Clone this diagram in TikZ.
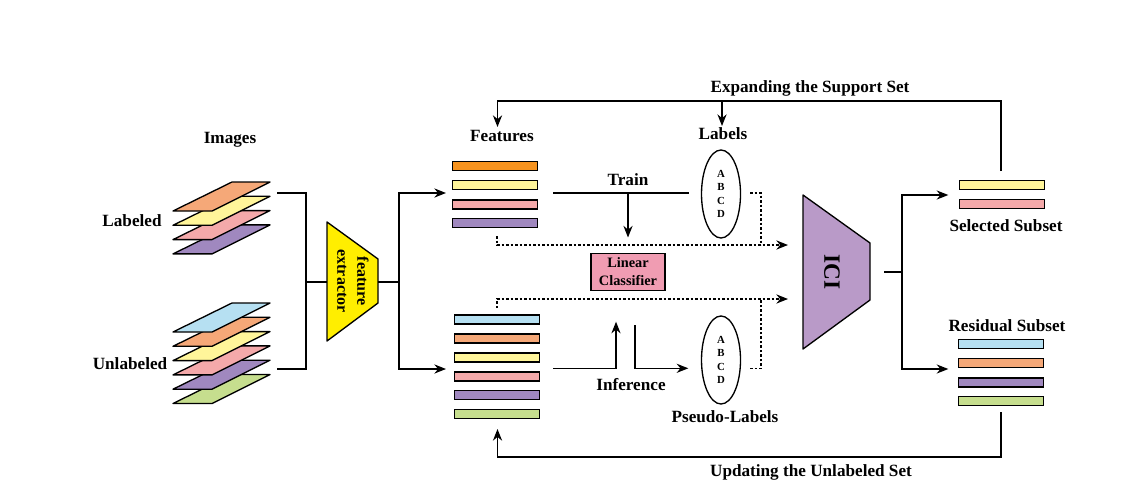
\documentclass[tikz,border=0pt]{standalone}
\usepackage{fontspec}
\setmainfont{Liberation Serif}
\usetikzlibrary{shapes,arrows.meta}
\definecolor{lor}{HTML}{F5A878}
\definecolor{dor}{HTML}{F7931E}
\definecolor{yel}{HTML}{FFF59A}
\definecolor{pnk}{HTML}{F4A9AA}
\definecolor{pur}{HTML}{A088BF}
\definecolor{blu}{HTML}{B6E0F2}
\definecolor{grn}{HTML}{C6DE8E}
\definecolor{fexy}{HTML}{FFEE00}
\definecolor{icip}{HTML}{B99AC8}
\definecolor{clsp}{HTML}{F09CB2}
\tikzstyle{bar}=[rectangle,draw=black,line width=.8pt,minimum width=51pt,minimum height=5.4pt,inner sep=0pt]
\tikzstyle{layer}=[draw=black,line width=.8pt,line join=round]
\tikzstyle{oval}=[ellipse,draw=black,line width=.8pt,minimum width=23.4pt,minimum height=52.8pt,inner sep=0pt,align=center,font=\fontsize{6.5}{8.1}\selectfont\bfseries]
\tikzstyle{txt}=[inner sep=0pt,font=\fontsize{10.3}{12}\selectfont\bfseries]
\tikzstyle{arr}=[line width=.8pt,-{Stealth[length=7pt,width=5.5pt]}]
\tikzstyle{ln}=[line width=.8pt]
\tikzstyle{dots}=[line width=.8pt,dash pattern=on 1.5pt off 1.2pt]
\begin{document}
\begin{tikzpicture}[x=.6pt,y=-.6pt]
\useasboundingbox (0,0) rectangle (1134,492);
% images
\node[txt] (img) at (230,140) {Images}; \node[txt] (labd) at (132,221) {Labeled}; \node[txt] (unld) at (130,364) {Unlabeled};
\filldraw[layer,fill=pur] (173,253.9) -- ++(39,0) -- ++(58,-29) -- ++(-38,0) -- cycle; \filldraw[layer,fill=pnk] (173,239.6) -- ++(39,0) -- ++(58,-29) -- ++(-38,0) -- cycle; \filldraw[layer,fill=yel] (173,225.3) -- ++(39,0) -- ++(58,-29) -- ++(-38,0) -- cycle; \filldraw[layer,fill=lor] (173,211) -- ++(39,0) -- ++(58,-29) -- ++(-38,0) -- cycle;
\filldraw[layer,fill=grn] (173,403.5) -- ++(39,0) -- ++(58,-29) -- ++(-38,0) -- cycle; \filldraw[layer,fill=pur] (173,389.2) -- ++(39,0) -- ++(58,-29) -- ++(-38,0) -- cycle; \filldraw[layer,fill=pnk] (173,374.9) -- ++(39,0) -- ++(58,-29) -- ++(-38,0) -- cycle; \filldraw[layer,fill=yel] (173,360.6) -- ++(39,0) -- ++(58,-29) -- ++(-38,0) -- cycle; \filldraw[layer,fill=lor] (173,346.3) -- ++(39,0) -- ++(58,-29) -- ++(-38,0) -- cycle; \filldraw[layer,fill=blu] (173,332) -- ++(39,0) -- ++(58,-29) -- ++(-38,0) -- cycle;
\coordinate (labout) at (277,193); \coordinate (unlout) at (277,369); \coordinate (join) at (306,282);
% feature extractor
\filldraw[layer,fill=fexy] (327,222) -- (378,259) -- (378,303) -- (327,341) -- cycle;
\node[inner sep=0pt,rotate=-90,align=center,font=\fontsize{9.6}{12}\selectfont\bfseries] (fex) at (353,281) {feature\\extractor};
\coordinate (fexin) at (327,282); \coordinate (fexout) at (378,282); \coordinate (split) at (399,282);
\draw[ln] (labout) -| (join) |- (unlout); \draw[ln] (join) -- (fexin);
\draw[ln] (fexout) -- (split); \draw[arr] (split) |- (446,193); \draw[arr] (split) |- (446,369);
% features
\node[txt] (feat) at (502,136) {Features};
\node[bar,fill=dor] (fl1) at (495,166.3) {}; \node[bar,fill=yel] (fl2) at (495,185) {}; \node[bar,fill=pnk] (fl3) at (495,204.5) {}; \node[bar,fill=pur] (fl4) at (495,223.2) {};
\node[bar,fill=blu] (fu1) at (497,319.5) {}; \node[bar,fill=lor] (fu2) at (497,338.4) {}; \node[bar,fill=yel] (fu3) at (497,357.6) {}; \node[bar,fill=pnk] (fu4) at (497,376.6) {}; \node[bar,fill=pur] (fu5) at (497,395.3) {}; \node[bar,fill=grn] (fu6) at (497,413.8) {};
% labels and classifier
\node[txt] (lbls) at (723,134) {Labels}; \node[oval] (gt) at (721,194) {A\\B\\C\\D};
\node[txt] (psl) at (725,417) {Pseudo-Labels}; \node[oval] (pseudo) at (721,360) {A\\B\\C\\D};
\node[rectangle,draw=black,line width=.8pt,fill=clsp,minimum width=44.4pt,minimum height=22.2pt,inner sep=0pt,align=center,font=\fontsize{8.6}{11}\selectfont\bfseries] (cls) at (628,271.7) {Linear\\Classifier};
\draw[ln] (553,193) -- (689,193); \node[txt] (train) at (628,180) {Train}; \draw[arr] (628,193) -- (628,237.5);
\draw[arr] (553,368.3) -| (616,321.7); \draw[arr] (635,325) |- (688.3,368.3); \node[txt] (infer) at (631,385) {Inference};
\draw[dots,arr] (497,236) -- (497,245) -- (788,245); \draw[dots] (750,193) -| (761,245);
\draw[dots,arr] (497,308) -- (497,299) -- (788,299); \draw[dots] (750,368.3) -| (761,299);
% ICI
\filldraw[layer,fill=icip] (803,195) -- (870,243) -- (870,300) -- (803,349) -- cycle;
\node[inner sep=0pt,rotate=-90,font=\fontsize{14}{16}\selectfont\bfseries] (ici) at (832,272) {ICI};
\coordinate (iciout) at (884,272); \coordinate (split2) at (902,272);
\draw[ln] (iciout) -- (split2); \draw[arr] (split2) |- (948.3,195); \draw[arr] (split2) |- (948.3,369);
% subsets
\node[bar,fill=yel] (s1) at (1002,185) {}; \node[bar,fill=pnk] (s2) at (1002,204) {}; \node[txt] (sel) at (1006,226) {Selected Subset};
\node[txt] (res) at (1007,326) {Residual Subset};
\node[bar,fill=blu] (r1) at (1001,344.2) {}; \node[bar,fill=lor] (r2) at (1001,362.8) {}; \node[bar,fill=pur] (r3) at (1001,382.6) {}; \node[bar,fill=grn] (r4) at (1001,401.3) {};
% loops
\draw[arr] (1001,171) -- (1001,101) -- (497.5,101) -- (497.5,127); \draw[arr] (722,101) -- (722,126);
\node[txt] (expand) at (810,88) {Expanding the Support Set};
\draw[arr] (1001,412) -- (1001,457) -- (497.5,457) -- (497.5,429);
\node[txt] (update) at (811,472) {Updating the Unlabeled Set};
\end{tikzpicture}
\end{document}
